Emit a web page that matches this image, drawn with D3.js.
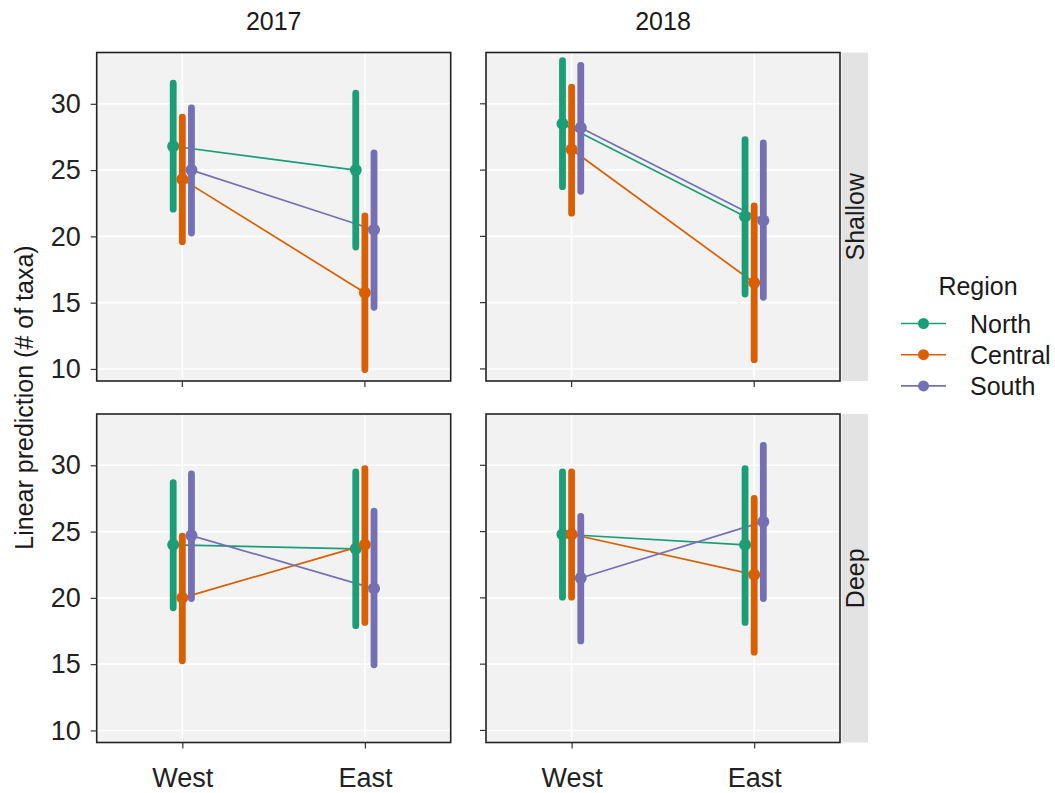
<!DOCTYPE html>
<html>
<head>
<meta charset="utf-8">
<script src="https://cdn.jsdelivr.net/npm/d3@7"></script>
<style>
  body { margin: 0; background: #fff; }
  svg { display: block; font-family: "Liberation Sans", Arial, sans-serif; }
</style>
</head>
<body>
<svg id="chart" width="1055" height="793"></svg>
<script>
// ---- data ----
const years = ["2017", "2018"];
const depths = ["Shallow", "Deep"];
const sites = ["West", "East"];
const regions = ["North", "Central", "South"];
const yTicks = [10, 15, 20, 25, 30];
// order of 8 values: [2017 Shallow W, E, 2018 Shallow W, E, 2017 Deep W, E, 2018 Deep W, E]
const northEst   = [26.8, 25.0, 28.5, 21.5, 24.0, 23.7, 24.8, 24.0];
const northLo    = [22.05, 19.2, 23.75, 15.65, 19.25, 17.9, 20.05, 18.15];
const northHi    = [31.55, 30.8, 33.25, 27.3, 28.7, 29.5, 29.5, 29.75];
const centralEst = [24.3, 15.75, 26.55, 16.5, 20.0, 24.0, 24.8, 21.75];
const centralLo  = [19.6, 9.95, 21.75, 10.7, 15.25, 18.15, 20.05, 15.9];
const centralHi  = [29.0, 21.55, 31.25, 22.3, 24.65, 29.75, 29.5, 27.5];
const southEst   = [25.0, 20.5, 28.2, 21.2, 24.7, 20.7, 21.5, 25.75];
const southLo    = [20.25, 14.65, 23.4, 15.4, 19.95, 14.95, 16.75, 19.95];
const southHi    = [29.7, 26.3, 32.9, 27.05, 29.35, 26.55, 26.15, 31.5];
const colors = ["#1B9E77", "#D95F02", "#7570B3"];

const estArr = [northEst, centralEst, southEst];
const loArr = [northLo, centralLo, southLo];
const hiArr = [northHi, centralHi, southHi];

// ---- layout ----
const svg = d3.select("#chart");
const panelW = 354, panelH = 328.5;
const colX = [96.7, 486];
const rowY = [52.5, 414];
const dodge = [-0.05, 0, 0.05];

const x = d3.scaleLinear().domain([0.531, 2.47]).range([0, panelW]);
const y = d3.scaleLinear().domain([9.09, 33.87]).range([panelH, 0]);
const color = d3.scaleOrdinal().domain(regions).range(colors);

depths.forEach((depth, r) => {
  years.forEach((year, c) => {
    const pIdx = r * 2 + c;
    const g = svg.append("g").attr("transform", `translate(${colX[c]},${rowY[r]})`);
    g.append("rect").attr("width", panelW).attr("height", panelH).attr("fill", "#F2F2F2");
    // grid
    g.selectAll(".gy").data(yTicks).join("line")
      .attr("x1", 0).attr("x2", panelW)
      .attr("y1", d => y(d)).attr("y2", d => y(d))
      .attr("stroke", "#fff").attr("stroke-width", 1.6);
    g.selectAll(".gx").data([1, 2]).join("line")
      .attr("x1", d => x(d)).attr("x2", d => x(d))
      .attr("y1", 0).attr("y2", panelH)
      .attr("stroke", "#fff").attr("stroke-width", 1.6);

    const groups = regions.map((reg, ri) => sites.map((s, si) => ({
      reg, ri, xv: si + 1 + dodge[ri],
      est: estArr[ri][pIdx * 2 + si],
      lo: loArr[ri][pIdx * 2 + si],
      hi: hiArr[ri][pIdx * 2 + si]
    })));

    // connecting lines
    const line = d3.line().x(d => x(d.xv)).y(d => y(d.est));
    groups.forEach(gr => {
      g.append("path").attr("d", line(gr)).attr("fill", "none")
        .attr("stroke", color(gr[0].reg)).attr("stroke-width", 1.7);
    });
    // ranges and points
    groups.forEach(gr => {
      gr.forEach(d => {
        g.append("line")
          .attr("x1", x(d.xv)).attr("x2", x(d.xv))
          .attr("y1", y(d.lo)).attr("y2", y(d.hi))
          .attr("stroke", color(d.reg)).attr("stroke-width", 6.8)
          .attr("stroke-linecap", "round");
        g.append("circle").attr("cx", x(d.xv)).attr("cy", y(d.est)).attr("r", 6)
          .attr("fill", color(d.reg));
      });
    });

    g.append("rect").attr("width", panelW).attr("height", panelH)
      .attr("fill", "none").attr("stroke", "#222").attr("stroke-width", 1.6);

    // y axis (left column only)
    if (c === 0) {
      const ya = g.append("g").call(d3.axisLeft(y).tickValues(yTicks).tickSize(6).tickPadding(10));
      ya.select(".domain").remove();
      ya.selectAll(".tick line").attr("stroke", "#333").attr("stroke-width", 1.2);
      ya.selectAll(".tick text").attr("font-size", 27).attr("fill", "#222")
        .attr("font-family", "Liberation Sans, Arial, sans-serif");
    } else {
      g.selectAll(".yt").data(yTicks).join("line")
        .attr("x1", -6).attr("x2", 0).attr("y1", d => y(d)).attr("y2", d => y(d))
        .attr("stroke", "#333").attr("stroke-width", 1.2);
    }
    // x axis ticks
    if (r === 1) {
      const xa = g.append("g").attr("transform", `translate(0,${panelH})`)
        .call(d3.axisBottom(x).tickValues([1, 2]).tickFormat(d => sites[d - 1]).tickSize(6).tickPadding(19));
      xa.select(".domain").remove();
      xa.selectAll(".tick line").attr("stroke", "#333").attr("stroke-width", 1.2);
      xa.selectAll(".tick text").attr("font-size", 27).attr("fill", "#222")
        .attr("font-family", "Liberation Sans, Arial, sans-serif");
    } else {
      g.selectAll(".xt").data([1, 2]).join("line")
        .attr("x1", d => x(d)).attr("x2", d => x(d)).attr("y1", panelH).attr("y2", panelH + 6)
        .attr("stroke", "#333").attr("stroke-width", 1.2);
    }
    // top strip
    if (r === 0) {
      svg.append("text").attr("x", colX[c] + panelW / 2).attr("y", 21)
        .attr("text-anchor", "middle").attr("dominant-baseline", "central")
        .attr("font-size", 25).attr("fill", "#1a1a1a").text(year);
    }
    // right strip
    if (c === 1) {
      const sx = colX[c] + panelW + 1.5;
      svg.append("rect").attr("x", sx).attr("y", rowY[r]).attr("width", 26.5).attr("height", panelH)
        .attr("fill", "#E3E3E3");
      svg.append("text")
        .attr("transform", `translate(${sx + 13.5},${rowY[r] + panelH / 2}) rotate(-90)`)
        .attr("text-anchor", "middle").attr("dominant-baseline", "central")
        .attr("font-size", 25).attr("fill", "#1a1a1a").text(depth);
    }
  });
});

// y title
svg.append("text")
  .attr("transform", `translate(24,${(rowY[0] + rowY[1] + panelH) / 2}) rotate(-90)`)
  .attr("text-anchor", "middle").attr("dominant-baseline", "central")
  .attr("font-size", 25).attr("fill", "#1a1a1a").text("Linear prediction (# of taxa)");

// legend
const lg = svg.append("g");
lg.append("text").attr("x", 978).attr("y", 286).attr("text-anchor", "middle")
  .attr("dominant-baseline", "central").attr("font-size", 25).attr("fill", "#1a1a1a").text("Region");
regions.forEach((reg, i) => {
  const ly = 323.5 + i * 31.2;
  lg.append("line").attr("x1", 901).attr("x2", 946).attr("y1", ly).attr("y2", ly)
    .attr("stroke", color(reg)).attr("stroke-width", 1.6);
  lg.append("circle").attr("cx", 923.5).attr("cy", ly).attr("r", 5.5).attr("fill", color(reg));
  lg.append("text").attr("x", 970).attr("y", ly).attr("dominant-baseline", "central")
    .attr("font-size", 25).attr("fill", "#1a1a1a").text(reg);
});
</script>
</body>
</html>
